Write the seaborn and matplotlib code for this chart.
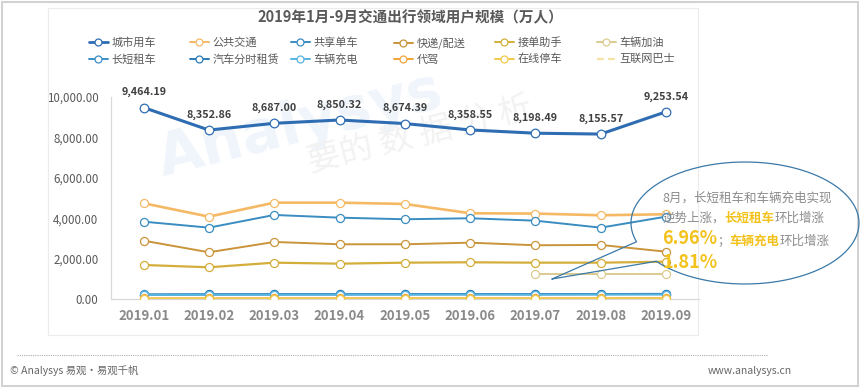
import numpy as np
import pandas as pd
import matplotlib
matplotlib.use("Agg")
import matplotlib.pyplot as plt
import seaborn as sns
from matplotlib.lines import Line2D
from matplotlib.patches import Rectangle
from matplotlib.offsetbox import TextArea, HPacker, AnchoredOffsetbox

# ---------------- data ----------------
months = ["2019.01", "2019.02", "2019.03", "2019.04", "2019.05",
          "2019.06", "2019.07", "2019.08", "2019.09"]
nan = np.nan
city_car = [9464.19, 8352.86, 8687.00, 8850.32, 8674.39, 8358.55, 8198.49, 8155.57, 9253.54]
public_transit = [4741, 4079, 4770, 4770, 4706, 4247, 4231, 4148, 4198]
shared_bike = [3832, 3536, 4163, 4030, 3950, 4000, 3881, 3536, 4079]
express = [2894, 2321, 2830, 2716, 2716, 2795, 2667, 2683, 2351]
order_helper = [1694, 1580, 1808, 1758, 1808, 1827, 1808, 1808, 1857]
refuel = [nan, nan, nan, nan, nan, nan, 1265, 1265, 1265]
rental = [240, 250, 255, 255, 262, 262, 258, 262, 270]
timeshare = [230, 238, 240, 242, 245, 248, 245, 250, 255]
charging = [210, 220, 222, 225, 228, 230, 228, 232, 236]
driver = [45, 48, 50, 50, 52, 52, 50, 52, 55]
parking = [30, 32, 34, 34, 35, 35, 34, 35, 36]
bus = [10, 10, 11, 11, 12, 12, 12, 12, 12]

series_names = ["城市用车", "公共交通", "共享单车", "快递/配送", "接单助手", "车辆加油",
                "长短租车", "汽车分时租赁", "车辆充电", "代驾", "在线停车", "互联网巴士"]
series_vals = [city_car, public_transit, shared_bike, express, order_helper, refuel,
               rental, timeshare, charging, driver, parking, bus]
colors = ["#2F6DB3", "#F5B966", "#3A8CC1", "#C9943A", "#D4AE3A", "#DCCB90",
          "#3B8FC8", "#2B7BB9", "#56B4E0", "#F0A33A", "#F2C94A", "#F5E2A0"]
widths = [2.2, 1.9, 1.4, 1.4, 1.6, 1.4, 1.4, 1.4, 1.4, 1.4, 1.6, 1.2]

# ---------------- figure ----------------
sns.set_style("white")
plt.rcParams["font.family"] = ["Noto Sans CJK SC", "DejaVu Sans"]

W, H = 860, 388
fig = plt.figure(figsize=(W / 100, H / 100), dpi=100)

def fx(px):
    return px / W

def fy(py):
    return 1 - py / H

# frames
fig.add_artist(Rectangle((fx(2), fy(386)), fx(856), 384 / H, transform=fig.transFigure,
                         fill=False, edgecolor="#d2d2d2", lw=1.5, zorder=0))
fig.add_artist(Rectangle((fx(48), fy(335)), fx(650), 327 / H, transform=fig.transFigure,
                         fill=False, edgecolor="#ececec", lw=0.8, zorder=0))
fig.add_artist(Line2D([fx(17), fx(768)], [fy(355), fy(355)], transform=fig.transFigure,
                      color="#b0b0b0", lw=0.8, ls=(0, (1, 1))))

# faint watermark (behind the axes)
fig.text(fx(300), fy(125), "Analysys", fontsize=42, color="#f0f5fb", rotation=14,
         ha="center", va="center", fontweight="bold", zorder=-1, family="DejaVu Sans")
fig.text(fx(420), fy(135), "要的 数 据 分 析", fontsize=24, color="#f2f2f2", rotation=14,
         ha="center", va="center", zorder=-1)

ax = fig.add_axes([fx(111), fy(299.3), fx(698.6 - 111), (299.3 - 96.7) / H])
ax.patch.set_alpha(0)
ax.set_zorder(2)

xs = np.arange(len(months))
order = list(range(1, len(series_names))) + [0]
for i in order:
    name, vals, c, lw = series_names[i], series_vals[i], colors[i], widths[i]
    df = pd.DataFrame({"x": xs, "y": vals}).dropna()
    if name == "互联网巴士":
        sns.lineplot(data=df, x="x", y="y", ax=ax, color=c, lw=lw, linestyle="--",
                     legend=False, zorder=2)
    else:
        sns.lineplot(data=df, x="x", y="y", ax=ax, color=c, lw=lw, marker="o",
                     markersize=6.2 if i == 0 else 5.8, markerfacecolor="white",
                     markeredgecolor=c, markeredgewidth=0.9, legend=False,
                     zorder=4 if i == 0 else 3)

for xi, v in zip(xs, city_car):
    ax.annotate(f"{v:,.2f}", (xi, v), xytext=(0, 11), textcoords="offset points",
                ha="center", va="center", fontsize=7.8, fontweight="bold",
                color="#404040", zorder=6)

ax.set_xlim(-0.5, len(months) - 0.5)
ax.set_ylim(0, 10000)
ax.set_xticks(xs)
ax.set_xticklabels(months)
ax.set_yticks(np.arange(0, 10001, 2000))
ax.set_yticklabels([f"{v:,.2f}" for v in np.arange(0, 10001, 2000)])
ax.set_xlabel("")
ax.set_ylabel("")
ax.tick_params(axis="x", length=0, pad=7, labelsize=9.5, labelcolor="#8a8a8a")
ax.tick_params(axis="y", length=0, pad=9, labelsize=8.3, labelcolor="#595959")
for lab in ax.get_xticklabels():
    lab.set_fontweight("bold")
for s in ["top", "right"]:
    ax.spines[s].set_visible(False)
for s in ["left", "bottom"]:
    ax.spines[s].set_color("#d9d9d9")
    ax.spines[s].set_linewidth(0.9)
ax.grid(False)

# title
fig.text(fx(410), fy(17), "2019年1月-9月交通出行领域用户规模（万人）", ha="center", va="center",
         fontsize=10.5, fontweight="bold", color="#595959")

# legend: six columns of two entries
col_x = [89, 190, 291, 394, 495, 597]
for c_i in range(6):
    hs, ls = [], []
    for r in range(2):
        k = r * 6 + c_i
        if series_names[k] == "互联网巴士":
            h = Line2D([], [], color=colors[k], lw=1.6, ls=(0, (3, 2)))
        else:
            h = Line2D([], [], color=colors[k], lw=2.0 if k == 0 else 1.4, marker="o",
                       markersize=5, markerfacecolor="white", markeredgecolor=colors[k],
                       markeredgewidth=0.9)
        hs.append(h)
        ls.append(series_names[k])
    fig.legend(hs, ls, loc="upper left", bbox_to_anchor=(fx(col_x[c_i]), fy(37)),
               frameon=False, borderpad=0, borderaxespad=0, fontsize=8,
               labelcolor="#595959", handlelength=1.7, handletextpad=0.35,
               labelspacing=0.55)

# callout ellipse with tail
cx, cy, a, b = 745, 223, 114, 61
t1 = np.deg2rad(218.9)
t2 = np.deg2rad(197.9 + 360)
tt = np.linspace(t1, t2, 200)
ex = cx + a * np.cos(tt)
ey = cy - b * np.sin(tt)
tip = (552, 279)
px = np.concatenate([[tip[0]], ex, [tip[0]]])
py = np.concatenate([[tip[1]], ey, [tip[1]]])
fig.add_artist(Line2D(fx(px), fy(py), transform=fig.transFigure, color="#3a79a8",
                      lw=0.9, zorder=7))

gray = "#8c8c8c"
gold = "#F3C21C"

def add_line(parts, x_px, y_px):
    boxes = [TextArea(t, textprops=dict(color=col, fontsize=fs, fontweight=fw,
                                         family=["Noto Sans CJK SC", "DejaVu Sans"]))
             for t, col, fs, fw in parts]
    pack = HPacker(children=boxes, align="baseline", pad=0, sep=0)
    box = AnchoredOffsetbox(loc="center left", child=pack, pad=0, borderpad=0,
                            frameon=False, bbox_to_anchor=(fx(x_px), fy(y_px)),
                            bbox_transform=fig.transFigure)
    box.set_zorder(8)
    fig.add_artist(box)

add_line([("8月，长短租车和车辆充电实现", gray, 9, "normal")], 662, 198)
add_line([("逆势上涨，", gray, 9, "normal"), ("长短租车", gold, 9, "bold"),
          ("环比增涨", gray, 9, "normal")], 662, 218)
add_line([("6.96%", gold, 13, "bold"), ("；", gray, 9, "normal"), ("车辆充电", gold, 9, "bold"),
          ("环比增涨", gray, 9, "normal")], 662, 239)
add_line([("1.81%", gold, 13, "bold")], 662, 262)

# footer
fig.text(fx(10), fy(371), "© Analysys 易观·易观千帆", fontsize=7.5, color="#666666",
         ha="left", va="center")
fig.text(fx(708), fy(371), "www.analysys.cn", fontsize=7.5, color="#666666",
         ha="left", va="center")

fig.savefig("out.png", dpi=100)
